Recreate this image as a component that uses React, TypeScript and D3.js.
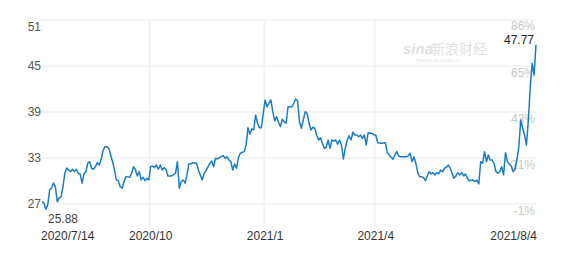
import React from "react";
import * as d3 from "d3";

const days = [0,1,2,3,4,5,6,7,8,9,10,11,12,13,14,15,16,17,18,19,20,21,22,23,24,25,26,27,28,29,30,31,32,33,34,35,36,37,38,39,40,41,42,43,44,46,47,48,49,50,51,52,53,54,55,56,57,58,59,60,61,62,63,64,65,66,67,68,70,71,72,73,74,75,76,77,78,79,81,82,83,84,85,86,88,89,90,91,92,93,95,96,97,98,99,100,101,102,103,104,106,107,108,109,110,111,112,113,114,115,116,117,118,119,120,121,122,123,124,125,126,127,128,129,131,132,133,134,135,136,137,138,139,140,141,142,143,144,145,146,147,148,149,150,151,152,153,154,155,156,157,158,159,160,161,162,163,164,165,166,167,168,169,170,171,172,173,174,175,176,178,180,181,182,184,185,186,187,188,189,191,192,193,194,195,196,197,198,199,200,201,202,203,204,205,206,207,208,209,210,211,212,213,214,215,216,217,218,219,220,221,222,223,224,226,227,228,229,230,231,232,233,234,235,236,237,238,239,240,241,242,243,244,245,246,247,248,249,250,251,252,253,254,255,256,257,258,259];

const closes = [27.31,27.14,26.3,26.88,28.83,29.09,29.74,29.26,27.31,27.79,27.92,29.26,31.05,31.7,31.44,31.22,31.53,31.22,31.53,31.01,30.92,29.71,30.92,31.22,32.31,32.52,31.66,31.53,31.87,32.39,32.09,32.84,33.96,34.48,34.48,34.27,33.4,32.52,31.44,30.14,30.04,29.26,29.05,29.91,30.57,30.49,31.01,31.87,31.44,30.66,31.22,30.14,30.49,30.04,30.36,30.14,31.87,31.96,31.74,32.09,31.53,32.09,31.44,31.74,31.53,30.66,30.66,30.66,31.01,32.52,29.05,29.91,30.14,29.71,30.79,32.22,32.22,32.39,32.31,31.44,30.79,30.14,31.01,31.35,32.31,32.61,31.87,32.97,32.87,33.04,33.3,32.97,33.17,32.74,32.52,31.44,32.22,31.66,33.04,33.62,33.83,34.7,36.96,36.1,36.8,36.66,38.61,37.53,36.96,36.96,38.83,40.57,39.69,40.14,40.57,39.04,37.83,38.39,37.66,37.09,38.05,37.74,37.53,39.69,39.69,40.14,40.7,40.44,37.74,36.88,37.96,39.04,38.83,37.53,36.66,37.01,36.88,36.0,35.35,35.65,34.92,34.27,34.4,35.35,34.27,35.35,35.22,35.35,34.79,35.35,34.7,32.87,34.27,35.35,35.91,35.35,36.36,36.0,36.0,35.78,36.0,35.57,36.0,34.7,36.3,36.23,36.23,36.0,36.0,35.0,34.92,35.0,33.7,33.4,32.84,33.4,33.83,33.27,33.17,33.17,33.17,33.27,33.62,32.52,33.17,32.31,31.09,30.57,30.57,30.44,30.04,30.66,31.22,30.92,31.09,30.79,31.09,30.92,31.44,31.22,31.66,31.79,32.09,31.66,31.01,30.36,30.66,31.09,30.79,31.09,30.66,30.92,30.36,30.04,30.14,29.91,30.14,29.61,32.52,32.31,33.83,32.52,33.4,32.74,32.74,32.31,31.22,31.01,31.22,31.87,30.79,33.7,32.52,32.22,31.96,31.22,31.53,32.74,34.48,37.96,36.88,36.0,34.7,37.96,42.3,45.35,43.83,47.77];

const totalDays = 260;
const yTicks = [27, 33, 39, 45, 51];
const pctLabels = ["-1%", "21%", "43%", "65%", "86%"];
const xTickDays = [57, 117, 175];
const xTickLabels = ["2020/10", "2021/1", "2021/4"];
const firstDate = "2020/7/14";
const lastDate = "2021/8/4";
const minLabel = "25.88";
const maxLabel = "47.77";

export default function App() {
  const W = 566, H = 257;
  const left = 40, right = 536, top = 20, bottom = 204;
  const x = d3.scaleLinear().domain([0, totalDays - 1]).range([42, 536]);
  const y = d3.scaleLinear().domain([27, 51]).range([bottom, top]);
  const pts: [number, number][] = days.map((d, i) => [d, closes[i]]);
  const line = d3.line<[number, number]>().x(d => x(d[0])).y(d => y(d[1]));
  const font = "'Liberation Sans', Arial, sans-serif";
  return (
    <div style={{ position: "absolute", left: 0, top: 0 }}>
      <svg width={W} height={H} style={{ display: "block", background: "#fff" }} fontFamily={font}>
        {yTicks.map(t => (
          <line key={"h" + t} x1={left} x2={right} y1={y(t)} y2={y(t)} stroke="#ebebeb" strokeWidth={1} />
        ))}
        {xTickDays.map(d => (
          <line key={"v" + d} x1={x(d) - 1} x2={x(d) - 1} y1={top} y2={227} stroke="#ebebeb" strokeWidth={1} />
        ))}
        <g>
          <text x={403} y={54} fontSize={15} fontStyle="italic" fontWeight="bold" fill="#e2e2e2">sina</text>
          <text x={431} y={54} fontSize={14} fill="#e2e2e2" fontFamily="'Noto Sans CJK SC', sans-serif">新浪财经</text>
          <text x={416} y={62} fontSize={5} fill="#e6e6e6">finance.sina.com.cn</text>
        </g>
        {yTicks.map((t, i) => (
          <text key={"l" + t} x={41} y={i === yTicks.length - 1 ? y(t) + 7 : y(t)} dy="0.35em" textAnchor="end" fontSize={12} fill="#555">{t}</text>
        ))}
        {yTicks.map((t, i) => (
          <text key={"r" + t} x={535} y={i === yTicks.length - 1 ? y(t) + 6 : y(t) + 7} dy="0.35em" textAnchor="end" fontSize={12} fill="#c8c8c8">{pctLabels[i]}</text>
        ))}
        <path d={line(pts) || ""} fill="none" stroke="#1a7dc4" strokeWidth={1.5} strokeLinejoin="round" />
        <text x={534} y={40} dy="0.35em" textAnchor="end" fontSize={12} fill="#222">{maxLabel}</text>
        <text x={48} y={219} dy="0.35em" fontSize={12} fill="#444">{minLabel}</text>
        <text x={41} y={236} dy="0.35em" fontSize={12} fill="#333">{firstDate}</text>
        {xTickDays.map((d, i) => (
          <text key={"x" + d} x={x(d)} y={236} dy="0.35em" textAnchor="middle" fontSize={12} fill="#333">{xTickLabels[i]}</text>
        ))}
        <text x={537} y={236} dy="0.35em" textAnchor="end" fontSize={12} fill="#333">{lastDate}</text>
      </svg>
    </div>
  );
}
